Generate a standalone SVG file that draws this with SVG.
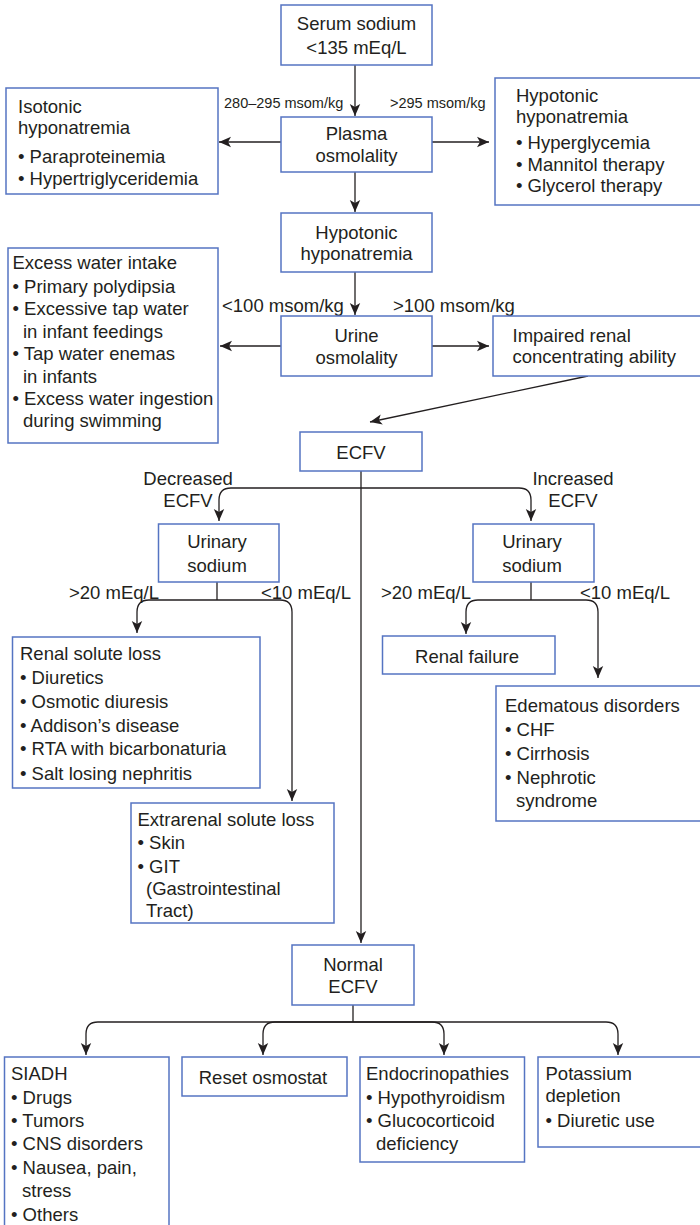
<svg xmlns="http://www.w3.org/2000/svg" width="700" height="1225" viewBox="0 0 700 1225">
  <defs>
    <marker id="arrow" markerUnits="userSpaceOnUse" markerWidth="12" markerHeight="12" viewBox="0 0 12 12" refX="12" refY="6" orient="auto">
      <path d="M0,0.8 L12,6 L0,11.2 L3,6 z" fill="#231f20"/>
    </marker>
    <style>
      .box { fill: #ffffff; stroke: #5574c2; stroke-width: 1.5; }
      .t { font-family: "Liberation Sans", Arial, sans-serif; font-size: 18.5px; fill: #231f20; }
      .s { font-family: "Liberation Sans", Arial, sans-serif; font-size: 14.5px; fill: #231f20; }
      .c { text-anchor: middle; }
      .ln { fill: none; stroke: #231f20; stroke-width: 1.3; }
      .ar { fill: none; stroke: #231f20; stroke-width: 1.3; marker-end: url(#arrow); }
    </style>
  </defs>
  <rect width="700" height="1225" fill="#ffffff"/>

  <!-- connectors -->
  <g id="connectors">
    <path class="ar" d="M355,65 V116"/>
    <path class="ar" d="M281,142 H219"/>
    <path class="ar" d="M432,142 H489"/>
    <path class="ar" d="M355,172 V212"/>
    <path class="ar" d="M355,272 V315"/>
    <path class="ar" d="M281,346 H220"/>
    <path class="ar" d="M432,346 H489"/>
    <path class="ar" d="M588,376 L370,422"/>
    <!-- ECFV split -->
    <path class="ar" d="M361,471 V943"/>
    <path class="ar" d="M361,488 H231 Q219,488 219,500 V521"/>
    <path class="ar" d="M361,488 H519 Q531,488 531,500 V521"/>
    <!-- decreased ECFV urinary sodium -->
    <path class="ln" d="M217,582 V600"/>
    <path class="ar" d="M217,600 H149 Q137,600 137,612 V633"/>
    <path class="ar" d="M217,600 H280 Q292,600 292,612 V801"/>
    <!-- increased ECFV urinary sodium -->
    <path class="ln" d="M531,582 V600"/>
    <path class="ar" d="M531,600 H478 Q466,600 466,612 V634"/>
    <path class="ar" d="M531,600 H586 Q598,600 598,612 V678"/>
    <!-- normal ECFV -->
    <path class="ln" d="M353,1005 V1022"/>
    <path class="ar" d="M353,1022 H98 Q86,1022 86,1034 V1055"/>
    <path class="ar" d="M353,1022 H275 Q263,1022 263,1034 V1055"/>
    <path class="ar" d="M353,1022 H432 Q444,1022 444,1034 V1055"/>
    <path class="ar" d="M353,1022 H606 Q618,1022 618,1034 V1055"/>
  </g>

  <!-- edge labels -->
  <g id="labels">
    <text class="s" x="224" y="108">280–295 msom/kg</text>
    <text class="s" x="390" y="108">&gt;295 msom/kg</text>
    <text class="t" x="222" y="312">&lt;100 msom/kg</text>
    <text class="t" x="393" y="312">&gt;100 msom/kg</text>
    <text class="t c" x="188" y="485">Decreased</text>
    <text class="t c" x="188" y="507">ECFV</text>
    <text class="t c" x="573" y="485">Increased</text>
    <text class="t c" x="573" y="507">ECFV</text>
    <text class="t" x="69" y="599">&gt;20 mEq/L</text>
    <text class="t" x="261" y="599">&lt;10 mEq/L</text>
    <text class="t" x="381" y="599">&gt;20 mEq/L</text>
    <text class="t" x="580" y="599">&lt;10 mEq/L</text>
  </g>

  <g id="serum-sodium">
    <rect class="box" x="281" y="5" width="151" height="60"/>
    <text class="t c" x="356.5" y="30">Serum sodium</text>
    <text class="t c" x="356.5" y="54">&lt;135 mEq/L</text>
  </g>

  <g id="plasma-osmolality">
    <rect class="box" x="281" y="117" width="151" height="55"/>
    <text class="t c" x="356.5" y="140">Plasma</text>
    <text class="t c" x="356.5" y="162">osmolality</text>
  </g>

  <g id="isotonic">
    <rect class="box" x="6" y="88" width="212" height="106"/>
    <text class="t" x="18" y="113">Isotonic</text>
    <text class="t" x="18" y="134">hyponatremia</text>
    <text class="t" x="18" y="163">• Paraproteinemia</text>
    <text class="t" x="18" y="185">• Hypertriglyceridemia</text>
  </g>

  <g id="hypertonic">
    <rect class="box" x="495" y="78" width="210" height="127"/>
    <text class="t" x="516" y="102">Hypotonic</text>
    <text class="t" x="516" y="123">hyponatremia</text>
    <text class="t" x="516" y="149">• Hyperglycemia</text>
    <text class="t" x="516" y="171">• Mannitol therapy</text>
    <text class="t" x="516" y="192">• Glycerol therapy</text>
  </g>

  <g id="hypotonic-hyponatremia">
    <rect class="box" x="281" y="213" width="151" height="59"/>
    <text class="t c" x="356.5" y="239">Hypotonic</text>
    <text class="t c" x="356.5" y="260">hyponatremia</text>
  </g>

  <g id="urine-osmolality">
    <rect class="box" x="281" y="316" width="151" height="60"/>
    <text class="t c" x="356.5" y="342">Urine</text>
    <text class="t c" x="356.5" y="364">osmolality</text>
  </g>

  <g id="excess-water">
    <rect class="box" x="8" y="248" width="210" height="195"/>
    <text class="t" x="12.5" y="269">Excess water intake</text>
    <text class="t" x="12.5" y="293">• Primary polydipsia</text>
    <text class="t" x="12.5" y="315">• Excessive tap water</text>
    <text class="t" x="23" y="338">in infant feedings</text>
    <text class="t" x="12.5" y="360">• Tap water enemas</text>
    <text class="t" x="23" y="383">in infants</text>
    <text class="t" x="12.5" y="405">• Excess water ingestion</text>
    <text class="t" x="23" y="427">during swimming</text>
  </g>

  <g id="impaired-renal">
    <rect class="box" x="493" y="316" width="212" height="60"/>
    <text class="t" x="512.5" y="342">Impaired renal</text>
    <text class="t" x="512.5" y="363">concentrating ability</text>
  </g>

  <g id="ecfv">
    <rect class="box" x="300" y="432" width="122" height="39"/>
    <text class="t c" x="361" y="459">ECFV</text>
  </g>

  <g id="urinary-sodium-low">
    <rect class="box" x="158.5" y="524" width="120.5" height="58"/>
    <text class="t c" x="217" y="548">Urinary</text>
    <text class="t c" x="217" y="572">sodium</text>
  </g>

  <g id="urinary-sodium-high">
    <rect class="box" x="473" y="524" width="121" height="58"/>
    <text class="t c" x="532" y="548">Urinary</text>
    <text class="t c" x="532" y="572">sodium</text>
  </g>

  <g id="renal-solute-loss">
    <rect class="box" x="12.5" y="637" width="247.5" height="151"/>
    <text class="t" x="20" y="660">Renal solute loss</text>
    <text class="t" x="20" y="684">• Diuretics</text>
    <text class="t" x="20" y="708">• Osmotic diuresis</text>
    <text class="t" x="20" y="732">• Addison’s disease</text>
    <text class="t" x="20" y="755">• RTA with bicarbonaturia</text>
    <text class="t" x="20" y="780">• Salt losing nephritis</text>
  </g>

  <g id="extrarenal-solute-loss">
    <rect class="box" x="131" y="803" width="203" height="120"/>
    <text class="t" x="137.5" y="826">Extrarenal solute loss</text>
    <text class="t" x="137.5" y="849">• Skin</text>
    <text class="t" x="137.5" y="873">• GIT</text>
    <text class="t" x="146" y="895">(Gastrointestinal</text>
    <text class="t" x="146" y="917">Tract)</text>
  </g>

  <g id="renal-failure">
    <rect class="box" x="382.5" y="636" width="172.5" height="38"/>
    <text class="t c" x="467" y="663">Renal failure</text>
  </g>

  <g id="edematous-disorders">
    <rect class="box" x="496" y="686" width="210" height="135"/>
    <text class="t" x="505" y="712">Edematous disorders</text>
    <text class="t" x="505" y="736">• CHF</text>
    <text class="t" x="505" y="760">• Cirrhosis</text>
    <text class="t" x="505" y="784">• Nephrotic</text>
    <text class="t" x="516" y="807">syndrome</text>
  </g>

  <g id="normal-ecfv">
    <rect class="box" x="292" y="945" width="122" height="60"/>
    <text class="t c" x="353" y="971">Normal</text>
    <text class="t c" x="353" y="993">ECFV</text>
  </g>

  <g id="siadh">
    <rect class="box" x="4.5" y="1057" width="164.5" height="175"/>
    <text class="t" x="11" y="1080">SIADH</text>
    <text class="t" x="11" y="1104">• Drugs</text>
    <text class="t" x="11" y="1127">• Tumors</text>
    <text class="t" x="11" y="1150">• CNS disorders</text>
    <text class="t" x="11" y="1174">• Nausea, pain,</text>
    <text class="t" x="22" y="1197">stress</text>
    <text class="t" x="11" y="1221">• Others</text>
  </g>

  <g id="reset-osmostat">
    <rect class="box" x="182" y="1057" width="165" height="39"/>
    <text class="t c" x="263" y="1084">Reset osmostat</text>
  </g>

  <g id="endocrinopathies">
    <rect class="box" x="360" y="1057" width="164.5" height="105"/>
    <text class="t" x="366" y="1080">Endocrinopathies</text>
    <text class="t" x="366" y="1104">• Hypothyroidism</text>
    <text class="t" x="366" y="1127">• Glucocorticoid</text>
    <text class="t" x="376" y="1150">deficiency</text>
  </g>

  <g id="potassium-depletion">
    <rect class="box" x="538" y="1057" width="168" height="90"/>
    <text class="t" x="545.5" y="1080">Potassium</text>
    <text class="t" x="545.5" y="1102">depletion</text>
    <text class="t" x="545.5" y="1127">• Diuretic use</text>
  </g>
</svg>
